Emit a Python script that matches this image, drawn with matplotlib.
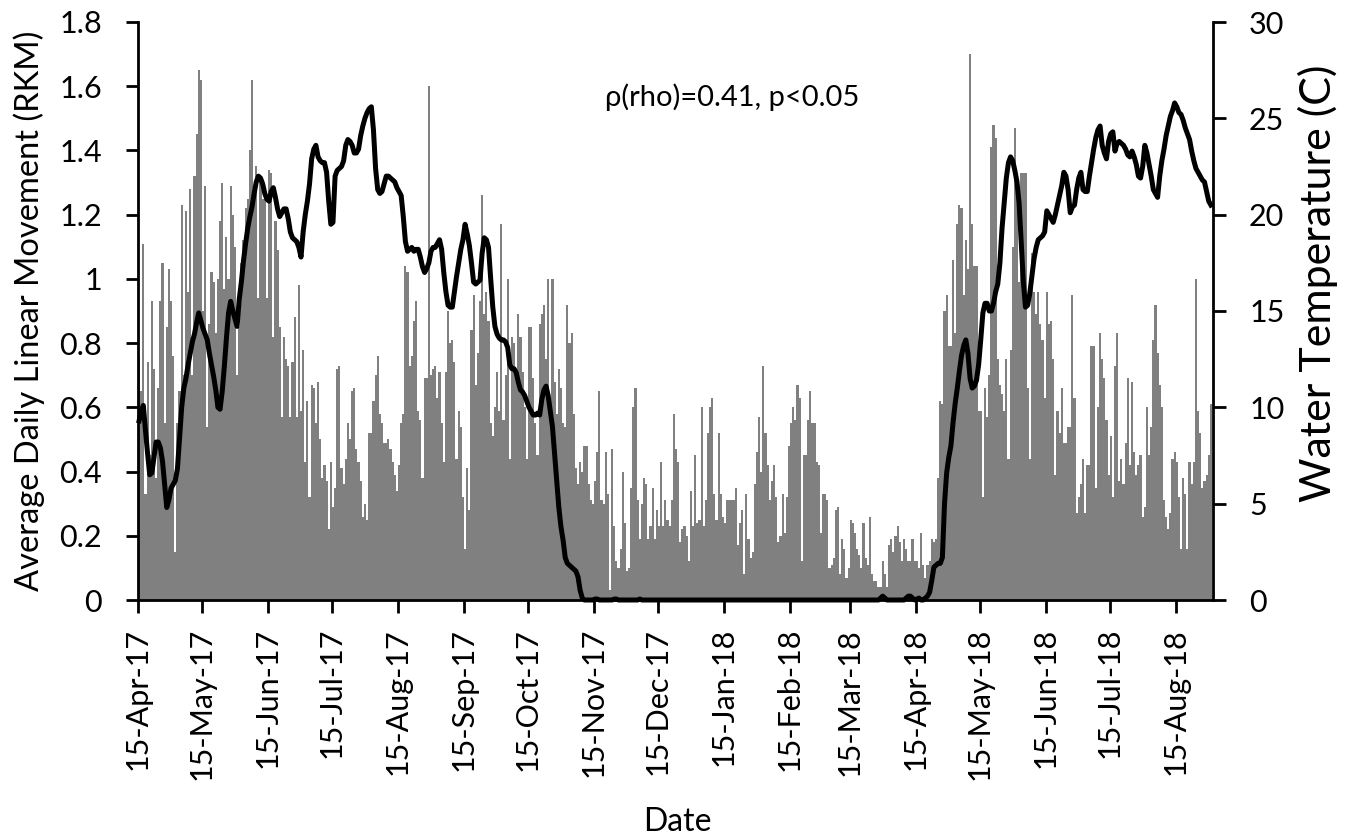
import datetime as dt
import matplotlib
matplotlib.use("Agg")
import matplotlib.pyplot as plt
import matplotlib.dates as mdates
import pandas as pd

plt.rcParams['font.family'] = ['Lato', 'DejaVu Sans']

# first day of the tracking record; one value per day after that
start_date = dt.datetime(2017, 4, 15)

# average daily linear movement (RKM), 15-Apr-17 .. 31-Aug-18
movement = [
    0.76, 0.65, 1.11, 0.33, 0.74, 0.45, 0.93, 0.72, 0.38, 0.66,
    0.93, 1.05, 0.55, 0.85, 1.03, 0.93, 0.76, 0.15, 0.55, 0.65,
    1.23, 0.70, 1.21, 0.96, 1.28, 0.70, 1.32, 1.45, 1.65, 1.62,
    0.90, 1.29, 0.54, 0.86, 1.02, 0.99, 0.83, 1.00, 1.18, 1.30,
    0.97, 1.13, 1.00, 1.29, 1.20, 1.10, 0.70, 0.85, 1.05, 1.12,
    1.22, 1.25, 1.40, 1.62, 1.25, 1.35, 0.94, 1.31, 1.25, 1.27,
    0.94, 1.34, 1.33, 0.82, 1.18, 1.09, 0.85, 0.57, 0.82, 0.75,
    0.73, 0.57, 0.74, 0.88, 0.57, 0.98, 0.59, 0.78, 0.43, 0.62,
    0.32, 0.67, 0.66, 0.55, 0.68, 0.50, 0.38, 0.42, 0.37, 0.22,
    0.43, 0.29, 0.35, 0.72, 0.73, 0.41, 0.36, 0.44, 0.55, 0.50,
    0.65, 0.66, 0.47, 0.43, 0.37, 0.26, 0.30, 0.25, 0.52, 0.52,
    0.62, 0.70, 0.76, 0.58, 0.55, 0.49, 0.49, 0.50, 0.47, 0.43,
    0.39, 0.34, 0.42, 0.55, 0.58, 1.04, 1.02, 0.73, 0.76, 0.87,
    0.93, 0.59, 0.56, 0.38, 0.69, 0.69, 1.60, 0.70, 0.72, 0.73,
    0.63, 0.71, 0.55, 0.43, 0.71, 0.90, 0.80, 0.81, 0.74, 0.44,
    0.59, 0.54, 0.32, 0.16, 0.41, 0.28, 0.84, 0.95, 0.67, 0.77,
    0.93, 1.26, 0.89, 0.96, 0.87, 0.55, 0.51, 0.60, 0.71, 0.59,
    1.17, 0.56, 0.70, 1.00, 0.44, 0.82, 0.80, 0.72, 0.89, 0.82,
    0.71, 0.60, 0.44, 0.85, 0.85, 0.69, 0.55, 0.45, 0.86, 0.89,
    0.92, 0.75, 1.00, 0.58, 1.00, 0.68, 0.58, 0.72, 0.66, 0.55,
    0.54, 0.92, 0.80, 0.83, 0.58, 0.41, 0.36, 0.43, 0.40, 0.48,
    0.48, 0.36, 0.31, 0.30, 0.37, 0.46, 0.65, 0.31, 0.30, 0.46,
    0.33, 0.03, 0.47, 0.23, 0.12, 0.10, 0.16, 0.40, 0.24, 0.09,
    0.10, 0.35, 0.60, 0.66, 0.31, 0.19, 0.30, 0.38, 0.36, 0.19,
    0.23, 0.35, 0.19, 0.28, 0.23, 0.43, 0.23, 0.31, 0.25, 0.23,
    0.31, 0.58, 0.47, 0.43, 0.18, 0.22, 0.23, 0.20, 0.12, 0.34,
    0.23, 0.45, 0.24, 0.25, 0.60, 0.23, 0.31, 0.52, 0.60, 0.63,
    0.33, 0.25, 0.52, 0.33, 0.26, 0.24, 0.31, 0.31, 0.31, 0.31,
    0.35, 0.17, 0.24, 0.28, 0.08, 0.33, 0.19, 0.13, 0.15, 0.36,
    0.46, 0.57, 0.40, 0.73, 0.52, 0.42, 0.31, 0.37, 0.42, 0.32,
    0.18, 0.20, 0.33, 0.21, 0.32, 0.48, 0.55, 0.60, 0.56, 0.67,
    0.63, 0.12, 0.45, 0.45, 0.56, 0.65, 0.55, 0.55, 0.43, 0.42,
    0.21, 0.33, 0.33, 0.31, 0.10, 0.11, 0.13, 0.28, 0.29, 0.08,
    0.19, 0.16, 0.07, 0.10, 0.25, 0.24, 0.21, 0.16, 0.14, 0.10,
    0.24, 0.13, 0.11, 0.26, 0.08, 0.06, 0.06, 0.04, 0.04, 0.12,
    0.08, 0.04, 0.17, 0.19, 0.15, 0.20, 0.23, 0.18, 0.12, 0.19,
    0.16, 0.12, 0.12, 0.19, 0.12, 0.12, 0.10, 0.21, 0.11, 0.07,
    0.11, 0.12, 0.19, 0.18, 0.19, 0.38, 0.62, 0.61, 0.90, 0.95,
    0.79, 0.79, 1.06, 0.83, 1.17, 1.23, 1.22, 0.95, 1.12, 1.03,
    1.70, 1.17, 1.04, 1.04, 0.59, 0.59, 0.32, 0.66, 0.57, 0.70,
    1.41, 1.48, 1.44, 0.75, 0.67, 0.64, 0.59, 0.75, 0.44, 0.78,
    1.10, 1.47, 1.26, 0.99, 1.33, 1.33, 1.33, 0.66, 0.44, 1.08,
    0.96, 0.89, 0.96, 0.86, 0.81, 0.63, 0.96, 0.86, 0.87, 0.75,
    0.39, 0.59, 0.52, 0.66, 0.49, 0.49, 0.54, 0.54, 0.95, 0.63,
    0.27, 0.32, 0.36, 0.44, 0.27, 0.42, 0.42, 0.79, 0.79, 0.35,
    0.60, 0.83, 0.75, 0.69, 0.56, 0.39, 0.51, 0.32, 0.73, 0.83,
    0.37, 0.44, 0.36, 0.49, 0.69, 0.42, 0.68, 0.46, 0.39, 0.42,
    0.45, 0.26, 0.29, 0.60, 0.45, 0.54, 0.81, 0.92, 0.77, 0.67,
    0.60, 0.31, 0.26, 0.22, 0.27, 0.44, 0.46, 0.43, 0.32, 0.16,
    0.38, 0.33, 0.16, 0.43, 0.36, 0.43, 1.00, 0.59, 0.52, 0.35,
    0.37, 0.39, 0.45, 0.61,
]

# daily mean water temperature (C) over the same days
water_temp = [
    9.3, 9.8, 10.1, 8.8, 7.6, 6.5, 6.6, 7.4, 8.2, 8.2,
    7.9, 7.2, 6.0, 4.8, 5.2, 5.8, 6.0, 6.2, 6.8, 8.4,
    10.0, 11.0, 11.5, 12.2, 12.8, 13.4, 13.8, 14.4, 14.9, 14.5,
    14.1, 13.8, 13.5, 12.8, 12.2, 11.6, 10.9, 10.0, 9.9, 10.8,
    12.1, 13.6, 14.9, 15.5, 15.0, 14.6, 14.2, 15.6, 16.5, 17.6,
    18.5, 19.3, 19.9, 20.4, 21.1, 21.7, 22.0, 21.9, 21.6, 21.1,
    20.8, 20.7, 21.2, 21.4, 20.9, 20.3, 19.9, 20.1, 20.3, 20.3,
    19.8, 19.1, 18.8, 18.7, 18.6, 18.3, 17.8, 19.1, 20.0, 20.7,
    21.6, 22.9, 23.4, 23.6, 23.0, 22.8, 22.7, 22.7, 22.2, 20.7,
    19.5, 19.6, 22.0, 22.3, 22.4, 22.5, 22.8, 23.6, 23.9, 23.8,
    23.6, 23.2, 23.2, 23.4, 24.1, 24.6, 25.0, 25.3, 25.5, 25.6,
    24.4, 22.4, 21.3, 21.1, 21.2, 21.6, 22.0, 22.0, 21.9, 21.8,
    21.7, 21.4, 21.2, 21.0, 19.9, 18.6, 18.1, 18.2, 18.3, 18.1,
    18.2, 18.2, 17.8, 17.3, 17.0, 17.2, 17.5, 18.1, 18.3, 18.3,
    18.5, 18.7, 18.2, 17.0, 16.0, 15.3, 15.2, 15.2, 16.0, 16.8,
    17.5, 18.2, 18.7, 19.5, 19.0, 18.4, 17.5, 16.5, 16.4, 16.5,
    16.6, 18.0, 18.8, 18.7, 18.3, 16.7, 15.2, 14.2, 13.8, 13.6,
    13.5, 13.5, 13.4, 13.1, 12.2, 12.0, 12.0, 11.8, 11.3, 10.9,
    10.8, 10.6, 10.3, 10.0, 9.8, 9.6, 9.6, 9.7, 9.6, 10.4,
    10.9, 11.1, 10.6, 9.8, 9.0, 7.6, 6.2, 4.8, 3.8, 3.1,
    2.2, 1.9, 1.8, 1.7, 1.6, 1.5, 1.2, 0.5, 0.1, 0.0,
    0.0, 0.0, 0.0, 0.0, 0.05, 0.05, 0.0, 0.0, 0.0, 0.0,
    0.0, 0.0, 0.0, 0.05, 0.05, 0.0, 0.0, 0.0, 0.0, 0.0,
    0.0, 0.0, 0.0, 0.0, 0.0, 0.05, 0.0, 0.0, 0.0, 0.0,
    0.0, 0.0, 0.0, 0.0, 0.0, 0.0, 0.0, 0.0, 0.0, 0.0,
    0.0, 0.0, 0.0, 0.0, 0.0, 0.0, 0.0, 0.0, 0.0, 0.0,
    0.0, 0.0, 0.0, 0.0, 0.0, 0.0, 0.0, 0.0, 0.0, 0.0,
    0.0, 0.0, 0.0, 0.0, 0.0, 0.0, 0.0, 0.0, 0.0, 0.0,
    0.0, 0.0, 0.0, 0.0, 0.0, 0.0, 0.0, 0.0, 0.0, 0.0,
    0.0, 0.0, 0.0, 0.0, 0.0, 0.0, 0.0, 0.0, 0.0, 0.0,
    0.0, 0.0, 0.0, 0.0, 0.0, 0.0, 0.0, 0.0, 0.0, 0.0,
    0.0, 0.0, 0.0, 0.0, 0.0, 0.0, 0.0, 0.0, 0.0, 0.0,
    0.0, 0.0, 0.0, 0.0, 0.0, 0.0, 0.0, 0.0, 0.0, 0.0,
    0.0, 0.0, 0.0, 0.0, 0.0, 0.0, 0.0, 0.0, 0.0, 0.0,
    0.0, 0.0, 0.0, 0.0, 0.0, 0.0, 0.0, 0.0, 0.1, 0.2,
    0.1, 0.0, 0.0, 0.0, 0.0, 0.0, 0.0, 0.0, 0.0, 0.0,
    0.1, 0.2, 0.2, 0.1, 0.0, 0.05, 0.1, 0.0, 0.0, 0.1,
    0.2, 0.4, 1.0, 1.7, 1.8, 1.9, 1.9, 2.2, 5.0, 6.6,
    7.4, 8.0, 9.2, 10.2, 11.0, 11.9, 12.7, 13.2, 13.5, 12.8,
    11.5, 11.0, 11.1, 11.4, 12.2, 13.5, 14.9, 15.4, 15.4, 15.0,
    15.0, 15.4, 16.0, 16.4, 17.5, 19.3, 20.6, 21.9, 22.7, 23.0,
    22.8, 22.3, 21.7, 20.6, 18.5, 16.5, 15.2, 15.3, 15.9, 16.8,
    17.7, 18.3, 18.7, 18.8, 18.9, 19.1, 20.2, 20.0, 19.8, 19.6,
    20.0, 20.5, 21.0, 21.5, 22.2, 22.0, 21.3, 20.1, 20.4, 20.5,
    21.3, 21.9, 22.2, 21.3, 21.2, 21.2, 22.0, 22.7, 23.4, 24.0,
    24.4, 24.6, 23.6, 23.2, 22.9, 23.8, 24.2, 24.3, 23.3, 23.7,
    23.8, 23.7, 23.6, 23.4, 23.1, 23.0, 23.3, 23.0, 22.6, 22.0,
    21.9, 22.5, 23.6, 23.2, 22.6, 22.0, 21.3, 21.1, 20.9, 22.0,
    22.8, 23.4, 24.1, 24.6, 25.1, 25.4, 25.8, 25.6, 25.3, 25.2,
    24.9, 24.5, 24.2, 23.9, 23.3, 22.8, 22.4, 22.2, 22.0, 21.8,
    21.7, 21.2, 20.7, 20.5,
]

move_ticks = [0, 0.2, 0.4, 0.6, 0.8, 1.0, 1.2, 1.4, 1.6, 1.8]
move_tick_labels = ['0', '0.2', '0.4', '0.6', '0.8', '1', '1.2', '1.4', '1.6', '1.8']
temp_ticks = [0, 5, 10, 15, 20, 25, 30]
stat_text = 'ρ(rho)=0.41, p<0.05'

move_dates = pd.date_range(start_date, periods=len(movement), freq='D')
temp_dates = pd.date_range(start_date, periods=len(water_temp), freq='D')
# 15th of every month shown on the date axis
tick_dates = pd.date_range('2017-04-01', '2018-08-01', freq='MS') + pd.Timedelta(days=14)

fig = plt.figure(figsize=(13.59, 8.38), dpi=100)
ax = fig.add_axes([138 / 1359, 1 - 600 / 838, 1075 / 1359, 578 / 838])

ax.bar(move_dates, movement, width=1.0, align='edge', color='#808080', linewidth=0)
ax.set_ylim(0, 1.8)
ax.set_yticks(move_ticks)
ax.set_yticklabels(move_tick_labels)
ax.set_xlim(start_date, start_date + dt.timedelta(days=504.5))
ax.set_xticks(tick_dates)
ax.xaxis.set_major_formatter(mdates.DateFormatter('%d-%b-%y'))
ax.tick_params(axis='x', rotation=90, labelsize=22, length=9, width=2, pad=11)
ax.tick_params(axis='y', labelsize=22, length=9, width=2, pad=17)
ax.set_ylabel('Average Daily Linear Movement (RKM)', fontsize=23.5)
ax.yaxis.set_label_coords(-0.0865, 0.5)
ax.set_xlabel('Date', fontsize=23, va='center')
ax.xaxis.set_label_coords(0.502, -0.384)
for side in ['top', 'right']:
    ax.spines[side].set_visible(False)
for side in ['left', 'bottom']:
    ax.spines[side].set_linewidth(2)

ax2 = ax.twinx()
ax2.plot(temp_dates + pd.Timedelta(hours=12), water_temp, color='black', linewidth=3.6,
         solid_joinstyle='round', clip_on=False)
ax2.set_ylim(0, 30)
ax2.set_yticks(temp_ticks)
ax2.tick_params(axis='y', labelsize=22, length=9, width=2, pad=17)
ax2.set_ylabel('Water Temperature (C)', fontsize=31)
ax2.yaxis.set_label_coords(1.079, 0.548)
for side in ['top', 'left', 'bottom']:
    ax2.spines[side].set_visible(False)
ax2.spines['right'].set_linewidth(2)

ax.text(0.553, 0.870, stat_text, transform=ax.transAxes, fontsize=21,
        ha='center', va='center', family=['Lato', 'DejaVu Sans'])

fig.savefig('out.png', dpi=100)
